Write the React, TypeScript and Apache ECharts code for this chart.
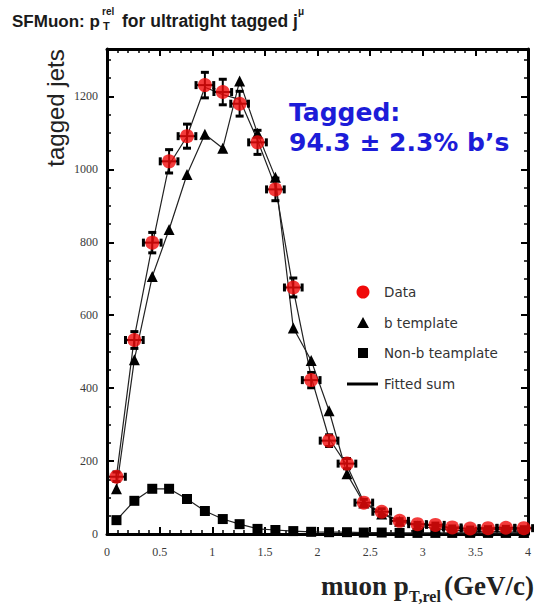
import React, { useEffect, useRef } from 'react';
import * as echarts from 'echarts';

// bin centres (GeV/c)
const binCenters = [0.09, 0.26, 0.43, 0.59, 0.76, 0.93, 1.1, 1.26, 1.43, 1.6, 1.77, 1.94, 2.11, 2.28, 2.44, 2.61, 2.78, 2.95, 3.12, 3.28, 3.45, 3.62, 3.79, 3.96];
const binHalfWidth = 0.084;
const dataCounts = [157, 532, 799, 1022, 1091, 1231, 1212, 1180, 1074, 945, 676, 422, 256, 193, 86, 61, 36, 27, 25, 18, 15, 16, 17, 16];
const dataErrors = [13, 23, 28, 32, 33, 35, 35, 34, 33, 31, 26, 21, 16, 14, 9, 8, 6, 5, 5, 4, 4, 4, 4, 4];
const bTemplate = [124, 478, 706, 835, 986, 1096, 1058, 1242, 1099, 978, 565, 476, 338, 165, 85, 55, 35, 22, 15, 10, 8, 7, 6, 5];
const nonBTemplate = [38, 91, 124, 124, 96, 63, 41, 27, 14, 11, 8, 6, 5, 5, 4, 4, 3, 3, 3, 3, 3, 3, 3, 3];
const fittedSum = [158, 540, 792, 1012, 1090, 1225, 1205, 1192, 1080, 952, 670, 430, 262, 188, 88, 58, 36, 26, 22, 16, 14, 13, 12, 11];

const legendNames = ['Data', 'b template', 'Non-b teamplate', 'Fitted sum'];
const annotationLines = ['Tagged:', '94.3 \u00b1 2.3% b\u2019s'];

const GRID = { left: 107, right: 1, top: 49, bottom: 71 };

export default function App() {
  const ref = useRef<HTMLDivElement>(null);
  useEffect(() => {
    if (!ref.current) return;
    const chart = echarts.init(ref.current, undefined, { renderer: 'svg' });
    const pair = (arr: number[]) => arr.map((v, i) => [binCenters[i], v]);
    const tickLabel = { fontFamily: 'Liberation Serif', fontSize: 12, color: '#3a3a3a', formatter: (v: number) => String(v) };
    const axisLine = { show: true, onZero: false, lineStyle: { color: '#000', width: 3 } };
    const axisTick = { show: true, inside: true, length: 7, lineStyle: { color: '#000', width: 2 } };
    const minorTick = { show: true, splitNumber: 5, length: 4, lineStyle: { color: '#000', width: 1.5 } };
    const yMinor = { show: true, splitNumber: 4, length: 4, lineStyle: { color: '#000', width: 1.5 } };

    const legendX = 363;
    const legendY = [292, 323, 353, 384];
    const legendFont = '13.5px "DejaVu Sans"';

    chart.setOption({
      animation: false,
      backgroundColor: '#fff',
      grid: { ...GRID },
      xAxis: [
        {
          type: 'value', min: 0, max: 4, interval: 0.5, position: 'bottom',
          axisLine, axisTick, minorTick, splitLine: { show: false },
          axisLabel: { ...tickLabel, margin: 12 },
        },
        {
          type: 'value', min: 0, max: 4, interval: 0.5, position: 'top',
          axisLine, axisTick, minorTick, splitLine: { show: false },
          axisLabel: { show: false },
        },
      ],
      yAxis: [
        {
          type: 'value', min: 0, max: 1330, interval: 200, position: 'left',
          axisLine, axisTick, minorTick: yMinor, splitLine: { show: false },
          axisLabel: { ...tickLabel, margin: 9, showMaxLabel: false },
        },
        {
          type: 'value', min: 0, max: 1330, interval: 200, position: 'right',
          axisLine, axisTick, minorTick: yMinor, splitLine: { show: false },
          axisLabel: { show: false },
        },
      ],
      series: [
        {
          name: 'Non-b teamplate', type: 'line', data: pair(nonBTemplate),
          symbol: 'rect', symbolSize: 10, itemStyle: { color: '#000' },
          lineStyle: { color: '#222', width: 1.2 }, z: 2,
        },
        {
          name: 'b template', type: 'line', data: pair(bTemplate),
          symbol: 'triangle', symbolSize: 11, itemStyle: { color: '#000' },
          lineStyle: { color: '#222', width: 1.2 }, z: 2,
        },
        {
          name: 'Fitted sum', type: 'line', data: pair(fittedSum),
          symbol: 'none', lineStyle: { color: '#222', width: 1.2 }, z: 2,
        },
        {
          name: 'errors', type: 'custom', z: 3,
          data: binCenters.map((x, i) => [x, dataCounts[i], dataErrors[i], binHalfWidth]),
          renderItem: (params: any, api: any) => {
            const x = api.value(0), y = api.value(1), ey = api.value(2), ex = api.value(3);
            const c = api.coord([x, y]);
            const t = api.coord([x, y + ey]);
            const b = api.coord([x, y - ey]);
            const l = api.coord([x - ex, y]);
            const r = api.coord([x + ex, y]);
            const cap = 4;
            const st = { stroke: '#000', lineWidth: 2 };
            const cst = { stroke: '#000', lineWidth: 3 };
            return {
              type: 'group',
              children: [
                { type: 'line', shape: { x1: c[0], y1: t[1], x2: c[0], y2: b[1] }, style: st },
                { type: 'line', shape: { x1: c[0] - cap, y1: t[1], x2: c[0] + cap, y2: t[1] }, style: cst },
                { type: 'line', shape: { x1: c[0] - cap, y1: b[1], x2: c[0] + cap, y2: b[1] }, style: cst },
                { type: 'line', shape: { x1: l[0], y1: c[1], x2: r[0], y2: c[1] }, style: st },
                { type: 'line', shape: { x1: l[0], y1: c[1] - cap, x2: l[0], y2: c[1] + cap }, style: cst },
                { type: 'line', shape: { x1: r[0], y1: c[1] - cap, x2: r[0], y2: c[1] + cap }, style: cst },
              ],
            };
          },
        },
        {
          name: 'Data', type: 'scatter', data: pair(dataCounts),
          symbol: 'circle', symbolSize: 14, itemStyle: { color: '#f00a0a' }, z: 4,
        },
      ],
      graphic: [
        // title
        { type: 'text', x: 12, y: 21, style: { text: 'SFMuon: p', font: 'bold 17px "Liberation Sans"', fill: '#1a1a1a', verticalAlign: 'middle' } },
        { type: 'text', x: 102, y: 11, style: { text: 'rel', font: 'bold 10px "Liberation Sans"', fill: '#1a1a1a', verticalAlign: 'middle' } },
        { type: 'text', x: 103, y: 26, style: { text: 'T', font: 'bold 11px "Liberation Sans"', fill: '#1a1a1a', verticalAlign: 'middle' } },
        { type: 'text', x: 122, y: 21, style: { text: 'for ultratight tagged j', font: 'bold 17.5px "Liberation Sans"', fill: '#1a1a1a', verticalAlign: 'middle' } },
        { type: 'text', x: 298, y: 11, style: { text: '\u03bc', font: 'bold 10px "Liberation Sans"', fill: '#1a1a1a', verticalAlign: 'middle' } },
        // y axis title
        { type: 'text', x: 55, y: 108, rotation: Math.PI / 2, style: { text: 'tagged jets', font: '24px "Liberation Sans"', fill: '#222', align: 'center', verticalAlign: 'middle' } },
        // x axis title
        { type: 'text', x: 321, y: 586, style: { text: 'muon p', font: 'bold 27px "Liberation Serif"', fill: '#222', verticalAlign: 'middle' } },
        { type: 'text', x: 409, y: 596, style: { text: 'T,rel', font: 'bold 16px "Liberation Serif"', fill: '#222', verticalAlign: 'middle' } },
        { type: 'text', x: 444, y: 586, style: { text: '(GeV/c)', font: 'bold 27px "Liberation Serif"', fill: '#222', verticalAlign: 'middle' } },
        // annotation
        { type: 'text', x: 289, y: 112, style: { text: annotationLines[0], font: 'bold 25px "DejaVu Sans"', fill: '#1c1cd8', verticalAlign: 'middle' } },
        { type: 'text', x: 289, y: 142, style: { text: annotationLines[1], font: 'bold 25px "DejaVu Sans"', fill: '#1c1cd8', verticalAlign: 'middle' } },
        // legend
        { type: 'circle', shape: { cx: legendX, cy: legendY[0], r: 6.5 }, style: { fill: '#f00a0a' } },
        { type: 'polygon', shape: { points: [[legendX, legendY[1] - 6], [legendX + 6, legendY[1] + 5], [legendX - 6, legendY[1] + 5]] }, style: { fill: '#000' } },
        { type: 'rect', shape: { x: legendX - 5, y: legendY[2] - 5, width: 10, height: 10 }, style: { fill: '#000' } },
        { type: 'line', shape: { x1: 347, y1: legendY[3], x2: 378, y2: legendY[3] }, style: { stroke: '#000', lineWidth: 3 } },
        ...legendNames.map((n, i) => ({
          type: 'text', x: 384, y: legendY[i], style: { text: n, font: legendFont, fill: '#333', verticalAlign: 'middle' },
        })),
      ],
    });
    return () => chart.dispose();
  }, []);
  return <div ref={ref} style={{ position: 'fixed', left: 0, top: 0, width: 534, height: 605 }} />;
}
